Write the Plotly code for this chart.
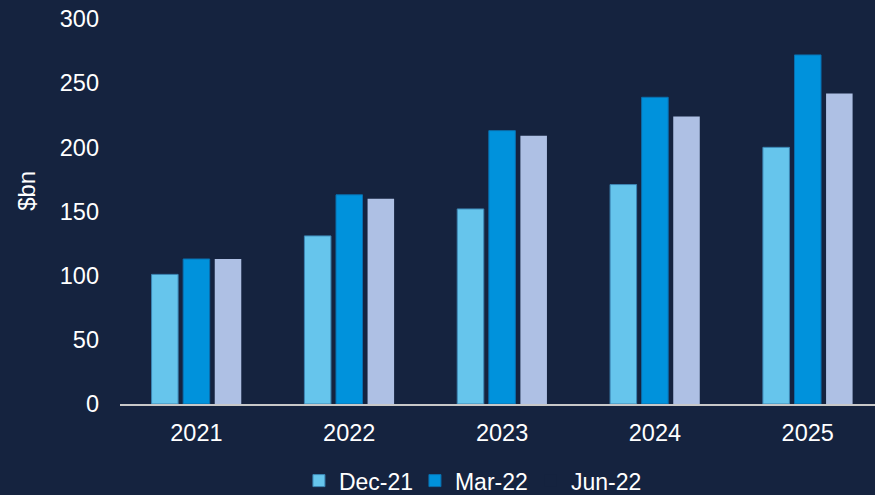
import plotly.graph_objects as go

# Forecast values ($bn) by year, for three forecast vintages
years = ["2021", "2022", "2023", "2024", "2025"]
dec21 = [101, 131, 152, 171, 200]
mar22 = [113, 163, 213, 239, 272]
jun22 = [113, 160, 209, 224, 242]

y_ticks = [0, 50, 100, 150, 200, 250, 300]

BG = "#15233F"
FONT = "Liberation Sans, Arial, sans-serif"
WHITE = "#FFFFFF"

fig = go.Figure()
fig.add_trace(go.Bar(
    x=years, y=dec21, name="Dec-21",
    marker=dict(color="#66C5EC", line=dict(color="#3C86B4", width=1)),
))
fig.add_trace(go.Bar(
    x=years, y=mar22, name="Mar-22",
    marker=dict(color="#0092DC", line=dict(color="#0A6FAE", width=1)),
))
fig.add_trace(go.Bar(
    x=years, y=jun22, name="Jun-22", showlegend=False,
    marker=dict(color="#AEC0E4", line=dict(width=0)),
))
# Legend entry for Jun-22 with a swatch in the background colour
fig.add_trace(go.Scatter(
    x=[years[0]], y=[None], name="Jun-22", mode="markers",
    marker=dict(symbol="square", size=12, color=BG),
))

fig.update_layout(
    width=875, height=495,
    paper_bgcolor=BG, plot_bgcolor=BG,
    margin=dict(l=120, r=0, t=19, b=91, autoexpand=False),
    barmode="group", bargap=0.38, bargroupgap=0.16,
    font=dict(family=FONT, color=WHITE, size=23),
    showlegend=True,
    legend=dict(
        orientation="h", x=0.237, xanchor="left", xref="paper",
        y=0.029, yanchor="middle", yref="container",
        entrywidth=71, entrywidthmode="pixels",
        font=dict(family=FONT, color=WHITE, size=23),
        bgcolor="rgba(0,0,0,0)", itemclick=False,
    ),
    xaxis=dict(
        type="category", range=[-0.5, 4.44],
        showgrid=False, zeroline=False,
        showline=True, linecolor="#C8C8C8", linewidth=2,
        ticks="", tickfont=dict(family=FONT, color=WHITE, size=23.5),
        ticklabelstandoff=7,
    ),
    yaxis=dict(
        range=[0, 300], tickvals=y_ticks,
        showgrid=False, zeroline=False, showline=False,
        ticks="", tickfont=dict(family=FONT, color=WHITE, size=23.5),
        ticklabelstandoff=20,
    ),
    annotations=[dict(
        text="$bn", textangle=-90,
        xref="paper", yref="paper", x=-0.123, y=0.554,
        xanchor="center", yanchor="middle", showarrow=False,
        font=dict(family=FONT, color=WHITE, size=24),
    )],
)

fig.write_html("out.html")
